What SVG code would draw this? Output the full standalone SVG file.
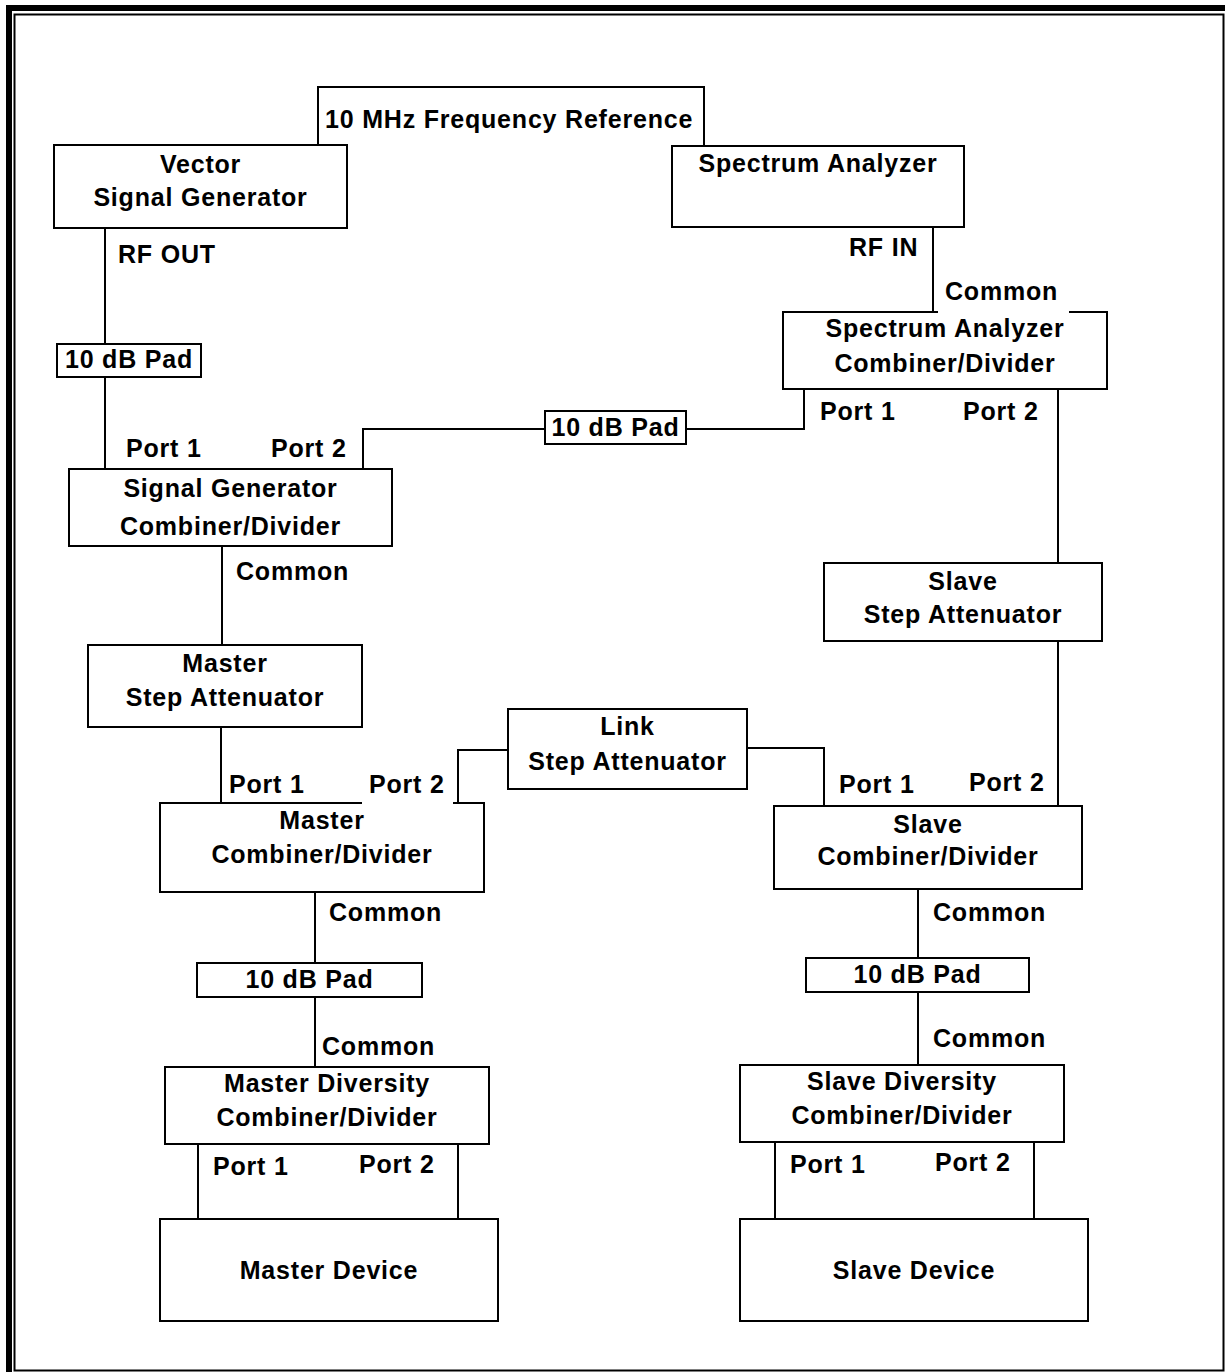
<svg xmlns="http://www.w3.org/2000/svg" width="1225" height="1372" viewBox="0 0 1225 1372">
<style>
.box{fill:#fff;stroke:#000;stroke-width:2}
.ln{fill:none;stroke:#000;stroke-width:2}
text{font-family:"Liberation Sans",Arial,sans-serif;font-weight:bold;font-size:25px;letter-spacing:0.8px;fill:#000}
.c{text-anchor:middle}
</style>
<rect x="0" y="0" width="1225" height="1372" fill="#fff"/>
<g id="border">
<rect x="6" y="5" width="1219" height="6" fill="#000"/>
<rect x="6" y="5" width="6" height="1367" fill="#000"/>
<rect x="14.5" y="14.5" width="1209" height="1356" fill="none" stroke="#000" stroke-width="2"/>
</g>
<g id="connectors">
<polyline class="ln" points="318,145 318,87 704,87 704,146"/>
<line class="ln" x1="105" y1="228" x2="105" y2="344"/>
<line class="ln" x1="105" y1="377" x2="105" y2="469"/>
<polyline class="ln" points="363,469 363,429 545,429"/>
<polyline class="ln" points="686,429 804,429 804,389"/>
<line class="ln" x1="933" y1="227" x2="933" y2="312"/>
<line class="ln" x1="1058" y1="389" x2="1058" y2="563"/>
<line class="ln" x1="1058" y1="641" x2="1058" y2="806"/>
<line class="ln" x1="222" y1="546" x2="222" y2="645"/>
<line class="ln" x1="221" y1="727" x2="221" y2="803"/>
<polyline class="ln" points="458,803 458,750 508,750"/>
<polyline class="ln" points="747,748 824,748 824,806"/>
<line class="ln" x1="315" y1="892" x2="315" y2="963"/>
<line class="ln" x1="315" y1="997" x2="315" y2="1067"/>
<line class="ln" x1="918" y1="889" x2="918" y2="958"/>
<line class="ln" x1="918" y1="992" x2="918" y2="1065"/>
<line class="ln" x1="198" y1="1144" x2="198" y2="1219"/>
<line class="ln" x1="458" y1="1144" x2="458" y2="1219"/>
<line class="ln" x1="775" y1="1142" x2="775" y2="1219"/>
<line class="ln" x1="1034" y1="1142" x2="1034" y2="1219"/>
</g>
<g id="vsg"><rect class="box" x="54" y="145" width="293" height="83"/><text class="c" x="200.5" y="173">Vector</text><text class="c" x="200.5" y="206">Signal Generator</text></g>
<g id="sa"><rect class="box" x="672" y="146" width="292" height="81"/><text class="c" x="818" y="172">Spectrum Analyzer</text></g>
<g id="pad1"><rect class="box" x="57" y="344" width="144" height="33"/><text class="c" x="129" y="368">10 dB Pad</text></g>
<g id="sgcd"><rect class="box" x="69" y="469" width="323" height="77"/><text class="c" x="230.5" y="497">Signal Generator</text><text class="c" x="230.5" y="535">Combiner/Divider</text></g>
<g id="sacd"><rect class="box" x="783" y="312" width="324" height="77"/><text class="c" x="945" y="337">Spectrum Analyzer</text><text class="c" x="945" y="372">Combiner/Divider</text></g>
<g id="pad2"><rect class="box" x="545" y="411" width="141" height="33"/><text class="c" x="615.5" y="436">10 dB Pad</text></g>
<g id="msa"><rect class="box" x="88" y="645" width="274" height="82"/><text class="c" x="225" y="672">Master</text><text class="c" x="225" y="706">Step Attenuator</text></g>
<g id="ssa"><rect class="box" x="824" y="563" width="278" height="78"/><text class="c" x="963" y="590">Slave</text><text class="c" x="963" y="623">Step Attenuator</text></g>
<g id="link"><rect class="box" x="508" y="709" width="239" height="80"/><text class="c" x="627.5" y="735">Link</text><text class="c" x="627.5" y="770">Step Attenuator</text></g>
<g id="mcd"><rect class="box" x="160" y="803" width="324" height="89"/><text class="c" x="322" y="829">Master</text><text class="c" x="322" y="863">Combiner/Divider</text></g>
<g id="scd"><rect class="box" x="774" y="806" width="308" height="83"/><text class="c" x="928" y="833">Slave</text><text class="c" x="928" y="865">Combiner/Divider</text></g>
<g id="pad3"><rect class="box" x="197" y="963" width="225" height="34"/><text class="c" x="309.5" y="988">10 dB Pad</text></g>
<g id="pad4"><rect class="box" x="806" y="958" width="223" height="34"/><text class="c" x="917.5" y="983">10 dB Pad</text></g>
<g id="mdcd"><rect class="box" x="165" y="1067" width="324" height="77"/><text class="c" x="327" y="1092">Master Diversity</text><text class="c" x="327" y="1126">Combiner/Divider</text></g>
<g id="sdcd"><rect class="box" x="740" y="1065" width="324" height="77"/><text class="c" x="902" y="1090">Slave Diversity</text><text class="c" x="902" y="1124">Combiner/Divider</text></g>
<g id="md"><rect class="box" x="160" y="1219" width="338" height="102"/><text class="c" x="329" y="1279">Master Device</text></g>
<g id="sd"><rect class="box" x="740" y="1219" width="348" height="102"/><text class="c" x="914" y="1279">Slave Device</text></g>
<g id="labels">
<text x="325" y="128">10 MHz Frequency Reference</text>
<text x="118" y="263">RF OUT</text>
<text x="849" y="256">RF IN</text>
<rect x="938" y="300" width="131" height="14" fill="#fff"/>
<text x="945" y="300">Common</text>
<text x="126" y="457">Port 1</text>
<text x="271" y="457">Port 2</text>
<text x="820" y="420">Port 1</text>
<text x="963" y="420">Port 2</text>
<text x="236" y="580">Common</text>
<text x="229" y="793">Port 1</text>
<rect x="362" y="793" width="91" height="11" fill="#fff"/>
<text x="369" y="793">Port 2</text>
<text x="839" y="793">Port 1</text>
<text x="969" y="791">Port 2</text>
<text x="329" y="921">Common</text>
<text x="933" y="921">Common</text>
<text x="322" y="1055">Common</text>
<text x="933" y="1047">Common</text>
<text x="213" y="1175">Port 1</text>
<text x="359" y="1173">Port 2</text>
<text x="790" y="1173">Port 1</text>
<text x="935" y="1171">Port 2</text>
</g>
</svg>
